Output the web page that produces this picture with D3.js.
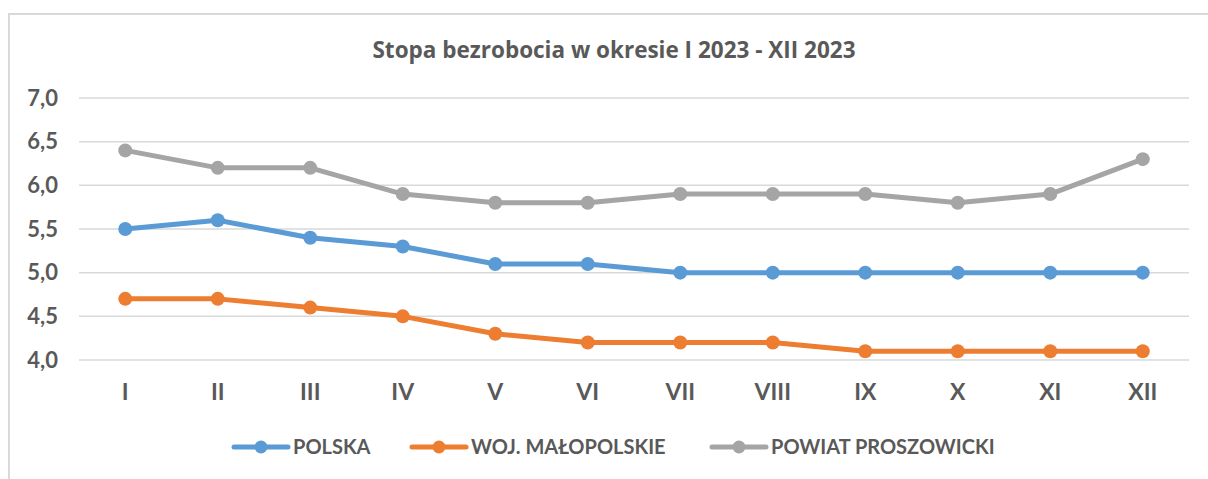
<!DOCTYPE html>
<html>
<head>
<meta charset="utf-8">
<script src="https://cdn.jsdelivr.net/npm/d3@7"></script>
<style>
  body { margin: 0; background: #fff; }
  svg { display: block; font-family: Lato, "Open Sans", sans-serif; }
</style>
</head>
<body>
<svg width="1208" height="479"></svg>
<script>
const months = ['I', 'II', 'III', 'IV', 'V', 'VI', 'VII', 'VIII', 'IX', 'X', 'XI', 'XII'];
const polska = [5.5, 5.6, 5.4, 5.3, 5.1, 5.1, 5.0, 5.0, 5.0, 5.0, 5.0, 5.0];
const malopolskie = [4.7, 4.7, 4.6, 4.5, 4.3, 4.2, 4.2, 4.2, 4.1, 4.1, 4.1, 4.1];
const proszowicki = [6.4, 6.2, 6.2, 5.9, 5.8, 5.8, 5.9, 5.9, 5.9, 5.8, 5.9, 6.3];
const yTicks = [4.0, 4.5, 5.0, 5.5, 6.0, 6.5, 7.0];

const series = [
  { name: 'POLSKA', values: polska, color: '#5b9bd5' },
  { name: 'WOJ. MAŁOPOLSKIE', values: malopolskie, color: '#ed7d31' },
  { name: 'POWIAT PROSZOWICKI', values: proszowicki, color: '#a5a5a5' }
];

const svg = d3.select('svg');
const textColor = '#595959';

// chart frame (right/bottom run off the picture)
svg.append('path')
  .attr('d', 'M9,479 V14 H1208')
  .attr('fill', 'none')
  .attr('stroke', '#d9d9d9')
  .attr('stroke-width', 2);

svg.append('text')
  .attr('x', 614)
  .attr('y', 58)
  .attr('text-anchor', 'middle')
  .attr('font-family', '"Open Sans", sans-serif')
  .attr('font-weight', 'bold')
  .attr('font-size', 22.5)
  .attr('fill', textColor)
  .text('Stopa bezrobocia w okresie I 2023 - XII 2023');

const x = d3.scaleBand().domain(months).range([79, 1189]);
const y = d3.scaleLinear().domain([4, 7]).range([360, 98]);

// gridlines
svg.append('g')
  .selectAll('line')
  .data(yTicks)
  .join('line')
  .attr('x1', 79)
  .attr('x2', 1189)
  .attr('y1', d => y(d))
  .attr('y2', d => y(d))
  .attr('stroke', '#d9d9d9')
  .attr('stroke-width', 1.5);

const yAxis = svg.append('g')
  .attr('transform', 'translate(79,0)')
  .call(d3.axisLeft(y).tickValues(yTicks).tickSize(0).tickPadding(21)
    .tickFormat(d => d3.format('.1f')(d).replace('.', ',')));
yAxis.select('.domain').remove();
yAxis.selectAll('text')
  .attr('font-size', 22)
  .attr('font-weight', 'bold')
  .attr('fill', textColor)
  .attr('font-family', 'Lato, sans-serif');

const xAxis = svg.append('g')
  .attr('transform', 'translate(0,381)')
  .call(d3.axisBottom(x).tickSize(0).tickPadding(3));
xAxis.select('.domain').remove();
xAxis.selectAll('text')
  .attr('font-size', 23)
  .attr('font-weight', 'bold')
  .attr('fill', textColor)
  .attr('font-family', 'Lato, sans-serif');

const cx = d => x(d) + x.bandwidth() / 2;
const line = d3.line()
  .x((d, i) => cx(months[i]))
  .y(d => y(d));

series.forEach(s => {
  const g = svg.append('g');
  g.append('path')
    .attr('d', line(s.values))
    .attr('fill', 'none')
    .attr('stroke', s.color)
    .attr('stroke-width', 5)
    .attr('stroke-linejoin', 'round')
    .attr('stroke-linecap', 'round');
  g.selectAll('circle')
    .data(s.values)
    .join('circle')
    .attr('cx', (d, i) => cx(months[i]))
    .attr('cy', d => y(d))
    .attr('r', 7)
    .attr('fill', s.color);
});

// legend
const legendX = [234, 412, 712];
const legend = svg.append('g').attr('transform', 'translate(0,447)');
series.forEach((s, i) => {
  const lg = legend.append('g').attr('transform', `translate(${legendX[i]},0)`);
  lg.append('line')
    .attr('x1', 0).attr('x2', 54)
    .attr('stroke', s.color)
    .attr('stroke-width', 5)
    .attr('stroke-linecap', 'round');
  lg.append('circle').attr('cx', 27).attr('r', 6.5).attr('fill', s.color);
  lg.append('text')
    .attr('x', 59)
    .attr('dy', '0.36em')
    .attr('font-size', 20)
    .attr('font-weight', 'bold')
    .attr('fill', textColor)
    .attr('font-family', 'Lato, sans-serif')
    .text(s.name);
});
</script>
</body>
</html>
